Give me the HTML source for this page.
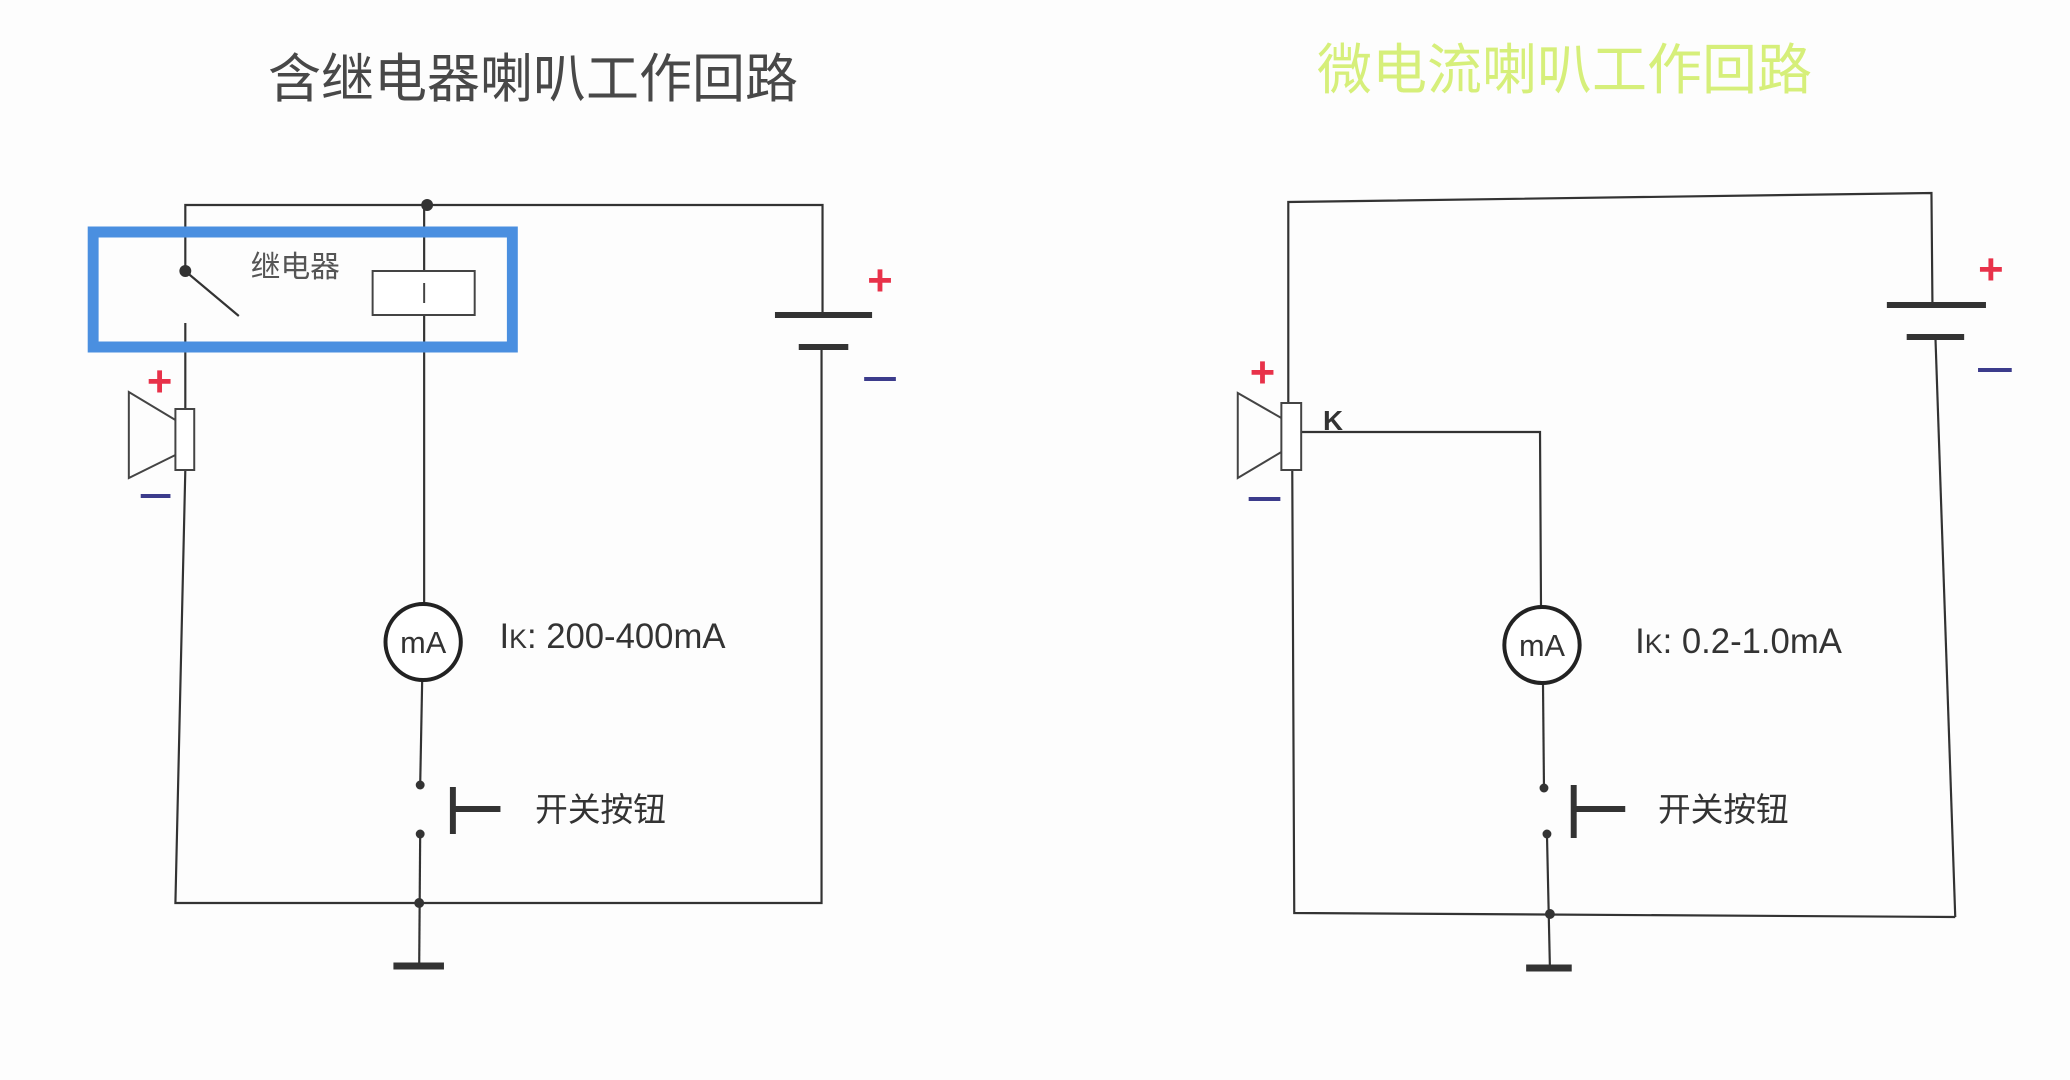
<!DOCTYPE html>
<html><head><meta charset="utf-8"><style>
html,body{margin:0;padding:0;background:#fff;}
svg{display:block;}
text{font-family:"Liberation Sans","Noto Sans CJK SC",sans-serif;}
</style></head><body>
<svg width="2070" height="1080" viewBox="0 0 2070 1080" xmlns="http://www.w3.org/2000/svg">
<rect width="2070" height="1080" fill="#fdfdfd"/>
<text x="268" y="97" font-size="53" fill="#484848">含继电器喇叭工作回路</text>
<text x="1317" y="89" font-size="55" fill="#d6ef7a">微电流喇叭工作回路</text>
<g transform="scale(0.991,1)">
<!-- LEFT -->
<g stroke="#333" stroke-width="2.2" fill="none">
<polyline points="187,270 187,205 830,205 830,315"/>
<line x1="187" y1="323" x2="187" y2="409"/>
<polyline points="187,470 177,903 829,903 829,347"/>
<line x1="428" y1="205" x2="428" y2="603"/>
<line x1="426" y1="681" x2="424" y2="785"/>
<line x1="424" y1="834" x2="423" y2="966"/>
<line x1="188" y1="272" x2="241" y2="316"/>
</g>
<rect x="94" y="232" width="423" height="115" fill="none" stroke="#4a8fe0" stroke-width="11"/>
<circle cx="187" cy="271" r="6" fill="#333"/>
<circle cx="431" cy="205" r="6" fill="#333"/>
<circle cx="423" cy="903" r="5" fill="#333"/>
<text x="298" y="277" font-size="30" fill="#555" text-anchor="middle">继电器</text>
<rect x="376" y="271" width="103" height="44" fill="#fff" stroke="#444" stroke-width="2"/>
<line x1="428" y1="283" x2="428" y2="303" stroke="#444" stroke-width="2"/>
<line x1="782" y1="315" x2="880" y2="315" stroke="#333" stroke-width="6"/>
<line x1="806" y1="347" x2="856" y2="347" stroke="#333" stroke-width="6"/>
<text x="888" y="295" font-size="44" fill="#e8324a" text-anchor="middle" font-weight="bold">+</text>
<line x1="872" y1="379" x2="904" y2="379" stroke="#3c3c8c" stroke-width="4"/>
<rect x="177" y="409" width="19" height="61" fill="#fff" stroke="#444" stroke-width="2"/>
<polyline points="177,420 130,392 130,478 177,455" fill="none" stroke="#444" stroke-width="2"/>
<text x="161" y="396" font-size="44" fill="#e8324a" text-anchor="middle" font-weight="bold">+</text>
<line x1="142" y1="496" x2="172" y2="496" stroke="#3c3c8c" stroke-width="4"/>
<circle cx="427" cy="642" r="38" fill="#fff" stroke="#222" stroke-width="4"/>
<text x="427" y="653" font-size="31" fill="#333" text-anchor="middle">mA</text>
<text x="504" y="648" font-size="35" fill="#333">I<tspan font-size="27">K</tspan>: 200-400mA</text>
<circle cx="424" cy="785" r="4.5" fill="#333"/>
<circle cx="424" cy="834" r="4.5" fill="#333"/>
<line x1="457" y1="787" x2="457" y2="834" stroke="#333" stroke-width="6"/>
<line x1="457" y1="809" x2="505" y2="809" stroke="#333" stroke-width="6"/>
<text x="540" y="821" font-size="33" fill="#333">开关按钮</text>
<line x1="397" y1="966" x2="448" y2="966" stroke="#333" stroke-width="7"/>

<!-- RIGHT -->
<g stroke="#333" stroke-width="2.2" fill="none">
<polyline points="1300,403 1300,202 1949,193 1950,305"/>
<line x1="1953" y1="337" x2="1973" y2="917"/>
<polyline points="1304,470 1306,913 1973,917"/>
<polyline points="1313,432 1554,432 1555,607"/>
<line x1="1557" y1="683" x2="1558" y2="788"/>
<line x1="1561" y1="834" x2="1564" y2="968"/>
</g>
<line x1="1904" y1="305" x2="2004" y2="305" stroke="#333" stroke-width="6"/>
<line x1="1924" y1="337" x2="1982" y2="337" stroke="#333" stroke-width="6"/>
<text x="2009" y="284" font-size="44" fill="#e8324a" text-anchor="middle" font-weight="bold">+</text>
<line x1="1996" y1="370" x2="2030" y2="370" stroke="#3c3c8c" stroke-width="4"/>
<rect x="1293" y="403" width="20" height="67" fill="#fff" stroke="#444" stroke-width="2"/>
<polyline points="1293,418 1249,393 1249,478 1293,452" fill="none" stroke="#444" stroke-width="2"/>
<text x="1274" y="387" font-size="44" fill="#e8324a" text-anchor="middle" font-weight="bold">+</text>
<line x1="1260" y1="499" x2="1292" y2="499" stroke="#3c3c8c" stroke-width="4"/>
<text x="1335" y="430" font-size="28" fill="#333" font-weight="bold">K</text>
<circle cx="1556" cy="645" r="38" fill="#fff" stroke="#222" stroke-width="4"/>
<text x="1556" y="656" font-size="31" fill="#333" text-anchor="middle">mA</text>
<text x="1650" y="653" font-size="35" fill="#333">I<tspan font-size="27">K</tspan>: 0.2-1.0mA</text>
<circle cx="1558" cy="788" r="4.5" fill="#333"/>
<circle cx="1561" cy="834" r="4.5" fill="#333"/>
<circle cx="1564" cy="914" r="5" fill="#333"/>
<line x1="1588" y1="785" x2="1588" y2="838" stroke="#333" stroke-width="6"/>
<line x1="1588" y1="809" x2="1640" y2="809" stroke="#333" stroke-width="6"/>
<text x="1673" y="821" font-size="33" fill="#333">开关按钮</text>
<line x1="1540" y1="968" x2="1586" y2="968" stroke="#333" stroke-width="7"/>
</g>
</svg>
</body></html>
